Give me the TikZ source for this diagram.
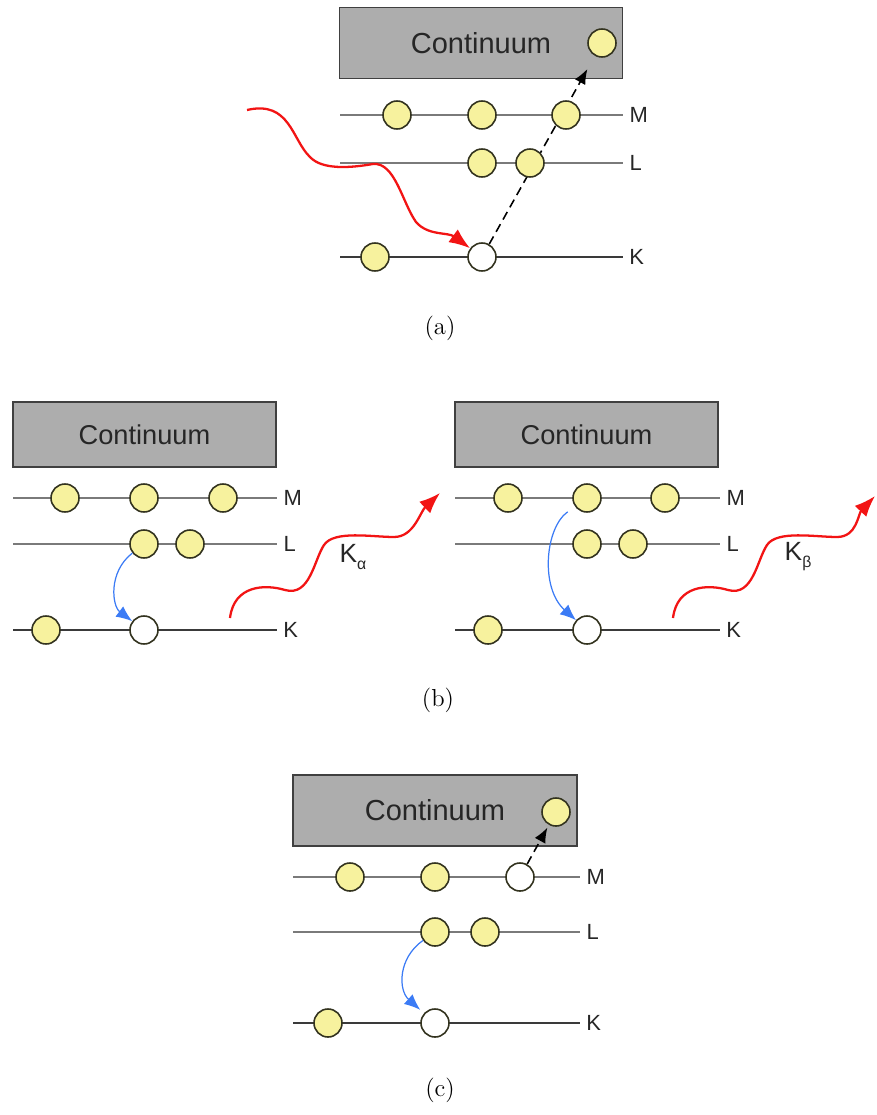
\documentclass[tikz,border=0pt]{standalone}
\usepackage{fontspec}
\newfontfamily\arial{Liberation Sans}
\usetikzlibrary{arrows.meta,backgrounds}
\definecolor{elcol}{HTML}{F7F29E}
\definecolor{rimcol}{HTML}{33331F}
\definecolor{boxcol}{HTML}{ADADAD}
\definecolor{boxrim}{HTML}{404040}
\definecolor{levcol}{HTML}{7A7A7A}
\definecolor{klevcol}{HTML}{3A3A3A}
\definecolor{photcol}{HTML}{F21414}
\definecolor{jumpcol}{HTML}{3B7BF5}
\begin{document}
\begin{tikzpicture}[x=0.02cm,y=-0.02cm,
          level/.style={draw=levcol,line width=1.4pt},
          klevel/.style={draw=klevcol,line width=1.3pt},
          el/.style={circle,draw=rimcol,fill=elcol,line width=0.9pt,minimum size=0.56cm,inner sep=0pt},
          hole/.style={el,fill=white},
          cont/.style={draw=boxrim,fill=boxcol,line width=0.8pt,text=black!85,font=\arial\fontsize{16.5}{18}\selectfont},
          lab/.style={right,inner sep=3pt,text=black!85,font=\arial\fontsize{12.5}{14}\selectfont},
          line/.style={text=black!85,font=\arial\fontsize{15}{17}\selectfont},
          photon/.style={photcol,line width=1.3pt,-{Latex[length=0.42cm,width=0.32cm]}},
          jump/.style={jumpcol,line width=0.7pt,-{Latex[length=0.32cm,width=0.26cm]}},
          ion/.style={black,line width=0.9pt,dash pattern=on 5pt off 3pt,-{Latex[length=0.3cm,width=0.24cm]}},
          capt/.style={font=\fontsize{14}{16}\selectfont}
        ]
        \useasboundingbox (0,0) rectangle (876,1115);
        % (a)
        \draw[level] (340,115) -- (623,115) node[lab] (alabm) {M};
        \draw[level] (340,163) -- (623,163) node[lab] (alabl) {L};
        \draw[klevel] (340,257) -- (623,257) node[lab] (alabk) {K};
        \node[el] (am1) at (397,115) {};
        \node[el] (am2) at (482,115) {};
        \node[el] (am3) at (566,115) {};
        \node[el] (al1) at (482,163) {};
        \node[el] (al2) at (530,163) {};
        \node[el] (ak1) at (375,257) {};
        \node[hole] (ak2) at (482,257) {};
        \node[el] (afree) at (602,43) {};
        \coordinate (ain) at (247,110);
        \draw[photon] (ain) .. controls (290,100) and (292,140) .. (310,157)
          .. controls (322,170) and (350,168) .. (373,164)
          .. controls (395,162) and (402,202) .. (416,222)
          .. controls (428,236) and (448,232) .. (ak2);
        \begin{scope}[on background layer]
          \node[cont,minimum width=5.66cm,minimum height=1.42cm] (acont) at (481,43) {Continuum};
          \draw[ion,shorten >=0.3cm] (ak2) -- (afree);
        \end{scope}
        \node[capt] (capa) at (440,328) {(a)};
        % (b), K alpha
        \node[cont,minimum width=5.26cm,minimum height=1.3cm,font=\arial\fontsize{15.5}{17}\selectfont] (kacont) at (144.5,434.5) {Continuum};
        \draw[level] (13,498) -- (277,498) node[lab] (kalabm) {M};
        \draw[level] (13,544) -- (277,544) node[lab] (kalabl) {L};
        \draw[klevel] (13,630) -- (277,630) node[lab] (kalabk) {K};
        \node[el] (kam1) at (65,498) {};
        \node[el] (kam2) at (144,498) {};
        \node[el] (kam3) at (223,498) {};
        \node[el] (kal1) at (144,544) {};
        \node[el] (kal2) at (190,544) {};
        \node[el] (kak1) at (46,630) {};
        \node[hole] (kak2) at (144,630) {};
        \draw[jump] (kal1) .. controls (108,572) and (112,606) .. (kak2);
        \coordinate (kain) at (230,618);
        \coordinate (kaout) at (440,493);
        \draw[photon] (kain) .. controls (234,585) and (265,584) .. (285,590)
          .. controls (310,597) and (314,560) .. (324,545)
          .. controls (334,530) and (372,537) .. (394,537)
          .. controls (414,537) and (420,512) .. (kaout);
        \node[line] (kaline) at (353,557) {K\raisebox{-0.5ex}{\fontsize{9}{9}\selectfont α}};
        % (b), K beta
        \node[cont,minimum width=5.26cm,minimum height=1.3cm,font=\arial\fontsize{15.5}{17}\selectfont] (kbcont) at (586.5,434.5) {Continuum};
        \draw[level] (455,498) -- (720,498) node[lab] (kblabm) {M};
        \draw[level] (455,544) -- (720,544) node[lab] (kblabl) {L};
        \draw[klevel] (455,630) -- (720,630) node[lab] (kblabk) {K};
        \node[el] (kbm1) at (508,498) {};
        \node[el] (kbm2) at (587,498) {};
        \node[el] (kbm3) at (665,498) {};
        \node[el] (kbl1) at (587,544) {};
        \node[el] (kbl2) at (633,544) {};
        \node[el] (kbk1) at (488,630) {};
        \node[hole] (kbk2) at (587,630) {};
        \draw[jump,shorten <=0.18cm] (kbm2) .. controls (545,528) and (540,588) .. (kbk2);
        \coordinate (kbin) at (673,618);
        \coordinate (kbout) at (875,496);
        \draw[photon] (kbin) .. controls (677,585) and (708,584) .. (728,590)
          .. controls (753,597) and (757,560) .. (767,545)
          .. controls (777,530) and (815,537) .. (837,537)
          .. controls (857,537) and (858,514) .. (kbout);
        \node[line] (kbline) at (798,557) {K\raisebox{-0.5ex}{\fontsize{9}{9}\selectfont β}};
        \node[capt] (capb) at (438,700) {(b)};
        % (c)
        \draw[level] (293,877) -- (580,877) node[lab] (clabm) {M};
        \draw[level] (293,932) -- (580,932) node[lab] (clabl) {L};
        \draw[klevel] (293,1023) -- (580,1023) node[lab] (clabk) {K};
        \node[el] (cm1) at (350,877) {};
        \node[el] (cm2) at (435,877) {};
        \node[hole] (cm3) at (520,877) {};
        \node[el] (cl1) at (435,932) {};
        \node[el] (cl2) at (485,932) {};
        \node[el] (ck1) at (328,1023) {};
        \node[hole] (ck2) at (435,1023) {};
        \node[el] (cfree) at (556,812) {};
        \draw[jump,shorten >=0.1cm] (cl1) .. controls (398,958) and (398,990) .. (ck2);
        \begin{scope}[on background layer]
          \node[cont,minimum width=5.68cm,minimum height=1.42cm] (ccont) at (435,810.5) {Continuum};
          \draw[ion,shorten >=0.06cm] (cm3) -- (cfree);
        \end{scope}
        \node[capt] (capc) at (440,1090) {(c)};
      \end{tikzpicture}
\end{document}
